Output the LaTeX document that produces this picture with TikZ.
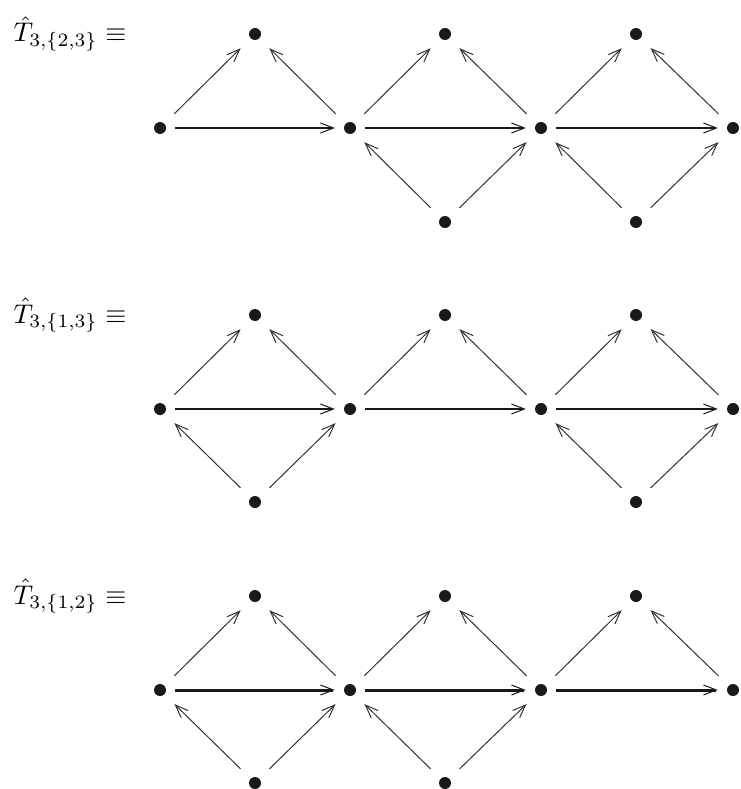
\documentclass[tikz,border=0pt]{standalone}
\usetikzlibrary{arrows.meta}
\begin{document}
\begin{tikzpicture}[x=1pt,y=-1pt,
  dot/.style={circle,minimum size=30pt,inner sep=0pt,
    path picture={\fill[black!90] (path picture bounding box.center) circle (6pt);}},
  harr/.style={-{Straight Barb[length=13pt,width=10pt,line width=1pt]},line width=2.2pt,black!90},
  harrb/.style={harr,line width=3pt},
  darr/.style={-{Straight Barb[length=13pt,width=10pt,line width=1pt]},line width=1pt,black!80,shorten <=5pt,shorten >=5pt},
  lbl/.style={anchor=base west,inner sep=0pt,scale=2.7,transform shape}]
\useasboundingbox (0,0) rectangle (740,789);
% ---------- row 1 ----------
\node[lbl] (L1) at (13,42) {$\hat{T}_{3,\{2,3\}}\equiv$};
\foreach \i/\x in {1/160,2/350,3/541,4/733} \node[dot] (a1\i) at (\x,128) {};
\foreach \i/\x in {1/255,2/445,3/636} \node[dot] (t1\i) at (\x,34) {};
\foreach \i/\x in {2/445,3/636} \node[dot] (b1\i) at (\x,222) {};
\draw[harr] (a11) -- (a12); \draw[harr] (a12) -- (a13); \draw[harr] (a13) -- (a14);
\draw[darr] (a11) -- (t11); \draw[darr] (a12) -- (t11);
\draw[darr] (a12) -- (t12); \draw[darr] (a13) -- (t12);
\draw[darr] (a13) -- (t13); \draw[darr] (a14) -- (t13);
\draw[darr] (b12) -- (a12); \draw[darr] (b12) -- (a13);
\draw[darr] (b13) -- (a13); \draw[darr] (b13) -- (a14);
% ---------- row 2 ----------
\node[lbl] (L2) at (13,323) {$\hat{T}_{3,\{1,3\}}\equiv$};
\foreach \i/\x in {1/160,2/350,3/541,4/733} \node[dot] (a2\i) at (\x,409) {};
\foreach \i/\x in {1/255,2/445,3/636} \node[dot] (t2\i) at (\x,315) {};
\foreach \i/\x in {1/255,3/636} \node[dot] (b2\i) at (\x,502) {};
\draw[harr] (a21) -- (a22); \draw[harr] (a22) -- (a23); \draw[harr] (a23) -- (a24);
\draw[darr] (a21) -- (t21); \draw[darr] (a22) -- (t21);
\draw[darr] (a22) -- (t22); \draw[darr] (a23) -- (t22);
\draw[darr] (a23) -- (t23); \draw[darr] (a24) -- (t23);
\draw[darr] (b21) -- (a21); \draw[darr] (b21) -- (a22);
\draw[darr] (b23) -- (a23); \draw[darr] (b23) -- (a24);
% ---------- row 3 ----------
\node[lbl] (L3) at (13,604) {$\hat{T}_{3,\{1,2\}}\equiv$};
\foreach \i/\x in {1/160,2/350,3/541,4/733} \node[dot] (a3\i) at (\x,690) {};
\foreach \i/\x in {1/255,2/445,3/636} \node[dot] (t3\i) at (\x,596) {};
\foreach \i/\x in {1/255,2/445} \node[dot] (b3\i) at (\x,783) {};
\draw[harrb] (a31) -- (a32); \draw[harrb] (a32) -- (a33); \draw[harrb] (a33) -- (a34);
\draw[darr] (a31) -- (t31); \draw[darr] (a32) -- (t31);
\draw[darr] (a32) -- (t32); \draw[darr] (a33) -- (t32);
\draw[darr] (a33) -- (t33); \draw[darr] (a34) -- (t33);
\draw[darr] (b31) -- (a31); \draw[darr] (b31) -- (a32);
\draw[darr] (b32) -- (a32); \draw[darr] (b32) -- (a33);
\end{tikzpicture}
\end{document}
